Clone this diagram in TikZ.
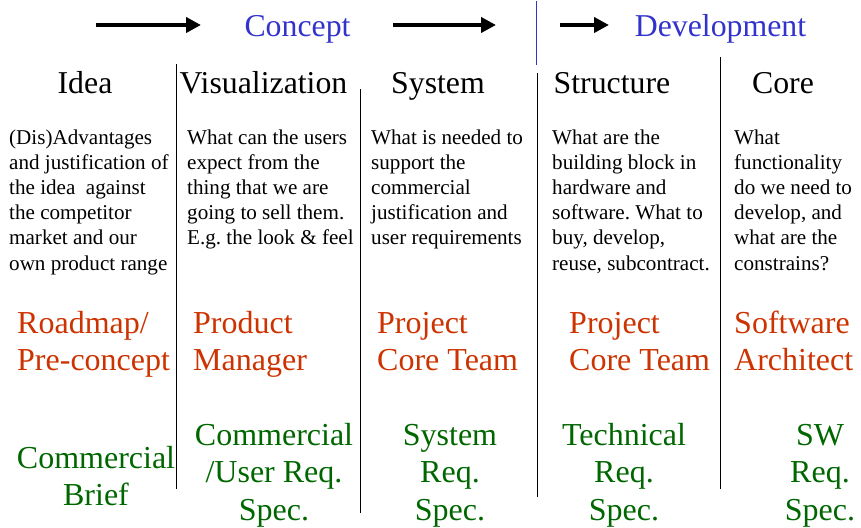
\documentclass[tikz,border=0pt]{standalone}
\usepackage{fontspec}
\setmainfont{Liberation Serif}
\usetikzlibrary{arrows.meta}
\definecolor{cblue}{RGB}{51,51,204}
\definecolor{cred}{RGB}{204,51,0}
\definecolor{cgreen}{RGB}{0,102,0}
\frenchspacing
\newcommand\mlines[2]{\begin{tabular}[t]{@{}#1@{}}#2\end{tabular}}
\begin{document}
\begin{tikzpicture}[x=1pt,y=-1pt,
  head/.style={font=\fontsize{31.8}{37}\selectfont, inner sep=0pt, anchor=base},
  phase/.style={font=\fontsize{31.8}{37}\selectfont, text=cblue, inner sep=0pt, anchor=base},
  body/.style={font=\fontsize{21.1}{25.2}\selectfont, inner sep=0pt, anchor=base west},
  role/.style={font=\fontsize{32}{37.5}\selectfont, text=cred, inner sep=0pt, anchor=base west},
  doc/.style={font=\fontsize{32}{37.5}\selectfont, text=cgreen, inner sep=0pt, anchor=base},
  bigarrow/.style={line width=4.5pt, -{Triangle[length=15pt,width=15pt]}},
  divider/.style={line width=1pt, draw=black},
  bluediv/.style={line width=1pt, draw=cblue}]
\useasboundingbox (0,0) rectangle (861,527);

% phase arrows
\coordinate (a1s) at (96,25);  \coordinate (a1e) at (201,25);
\coordinate (a2s) at (393,25); \coordinate (a2e) at (496,25);
\coordinate (a3s) at (560,25); \coordinate (a3e) at (609,25);
\draw[bigarrow] (a1s) -- (a1e);
\draw[bigarrow] (a2s) -- (a2e);
\draw[bigarrow] (a3s) -- (a3e);

\node[phase] (concept) at (297.5,37) {Concept};
\node[phase] (dev) at (720.5,37) {Development};

% dividers
\coordinate (v1t) at (176.5,64);  \coordinate (v1b) at (176.5,489);
\coordinate (v2t) at (360,89);    \coordinate (v2b) at (360,513);
\coordinate (vbt) at (536.5,1);   \coordinate (vbb) at (536.5,65);
\coordinate (v3t) at (537,73);    \coordinate (v3b) at (537,497);
\coordinate (v4t) at (720,57);    \coordinate (v4b) at (720,489);
\draw[divider] (v1t) -- (v1b);
\draw[divider] (v2t) -- (v2b);
\draw[bluediv] (vbt) -- (vbb);
\draw[divider] (v3t) -- (v3b);
\draw[divider] (v4t) -- (v4b);

% headers
\node[head] (idea) at (85,93) {Idea};
\node[head] (vis) at (263.5,93) {Visualization};
\node[head] (sys) at (438,93) {System};
\node[head] (str) at (612,93) {Structure};
\node[head] (core) at (783,93) {Core};

% descriptions
\node[body] (d1) at (9,144) {\mlines{l}{(Dis)Advantages\\and justification of\\the idea~ against\\the competitor\\market and our\\own product range}};
\node[body] (d2) at (187,144) {\mlines{l}{What can the users\\expect from the\\thing that we are\\going to sell them.\\E.g. the look \& feel}};
\node[body] (d3) at (371,144) {\mlines{l}{What is needed to\\support the\\commercial\\justification and\\user requirements}};
\node[body] (d4) at (552,144) {\mlines{l}{What are the\\building block in\\hardware and\\software. What to\\buy, develop,\\reuse, subcontract.}};
\node[body] (d5) at (734,144) {\mlines{l}{What\\functionality\\do we need to\\develop, and\\what are the\\constrains?}};

% roles
\node[role] (r1) at (17,333) {\mlines{l}{Roadmap/\\Pre-concept}};
\node[role] (r2) at (193,333) {\mlines{l}{Product\\Manager}};
\node[role] (r3) at (377,333) {\mlines{l}{Project\\Core Team}};
\node[role] (r4) at (569,333) {\mlines{l}{Project\\Core Team}};
\node[role] (r5) at (734,333) {\mlines{l}{Software\\Architect}};

% documents
\node[doc] (s1) at (96,468) {\mlines{c}{Commercial\\Brief}};
\node[doc] (s2) at (274,445) {\mlines{c}{Commercial\\/User Req.\\Spec.}};
\node[doc] (s3) at (450,445) {\mlines{c}{System\\Req.\\Spec.}};
\node[doc] (s4) at (624,445) {\mlines{c}{Technical\\Req.\\Spec.}};
\node[doc] (s5) at (820,445) {\mlines{c}{SW\\Req.\\Spec.}};
\end{tikzpicture}
\end{document}
